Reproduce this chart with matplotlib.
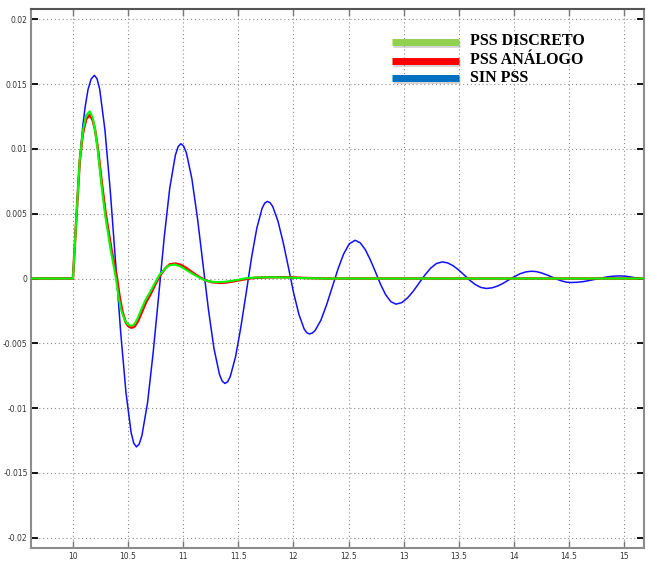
import matplotlib
matplotlib.use("Agg")
import matplotlib.pyplot as plt
from matplotlib.lines import Line2D
import matplotlib.patheffects as pe

# ---- data ----
t_sin = [9.6, 10.0, 10.03, 10.061, 10.09, 10.11, 10.137, 10.165, 10.195, 10.219,
         10.243, 10.29, 10.338, 10.386, 10.433, 10.481, 10.528, 10.552, 10.576, 10.601,
         10.626, 10.677, 10.727, 10.778, 10.828, 10.878, 10.929, 10.954, 10.979, 11.004,
         11.029, 11.079, 11.129, 11.179, 11.229, 11.279, 11.329, 11.354, 11.379, 11.403,
         11.427, 11.475, 11.523, 11.572, 11.62, 11.668, 11.716, 11.740, 11.764, 11.788,
         11.812, 11.859, 11.907, 11.955, 12.002, 12.05, 12.097, 12.121, 12.145, 12.171,
         12.197, 12.249, 12.3, 12.352, 12.404, 12.455, 12.507, 12.559,
         12.605, 12.652, 12.698, 12.745, 12.791, 12.837, 12.884, 12.93,
         12.983, 13.035, 13.088, 13.14, 13.193, 13.245, 13.298, 13.35,
         13.4, 13.45, 13.5, 13.55, 13.6, 13.65, 13.7, 13.75,
         13.801, 13.853, 13.904, 13.955, 14.006, 14.057, 14.109, 14.16,
         14.205, 14.25, 14.295, 14.34, 14.385, 14.43, 14.475, 14.52,
         14.575, 14.63, 14.685, 14.74, 14.795, 14.85, 14.905, 14.96,
         15.01, 15.06, 15.11, 15.16, 15.22]
v_sin = [0.0, 0.0, 0.0045, 0.0091, 0.0118, 0.0132, 0.0146, 0.0154, 0.01568, 0.01541,
         0.01459, 0.01148, 0.00683, 0.00134, -0.00415, -0.0088, -0.01191, -0.01272, -0.0130, -0.01278,
         -0.01211, -0.00957, -0.00578, -0.0013, 0.00318, 0.00697, 0.00951, 0.01018, 0.0104, 0.01022,
         0.0097, 0.00769, 0.00469, 0.00115, -0.00239, -0.00539, -0.0074, -0.00792, -0.0081, -0.00797,
         -0.00757, -0.00604, -0.00376, -0.00108, 0.00161, 0.00389, 0.00542, 0.00582, 0.00595, 0.00585,
         0.00556, 0.00445, 0.00279, 0.00084, -0.00112, -0.00278, -0.00389, -0.00418, -0.00428, -0.00421,
         -0.00401, -0.00322, -0.00205, -0.00067, 0.00072, 0.00189, 0.00268, 0.00295,
         0.00276, 0.00223, 0.00143, 0.00049, -0.00046, -0.00126, -0.00179, -0.00198,
         -0.00186, -0.0015, -0.00097, -0.00035, 0.00027, 0.0008, 0.00116, 0.00128,
         0.0012, 0.00098, 0.00065, 0.00026, -0.00014, -0.00047, -0.00069, -0.00077,
         -0.00072, -0.00058, -0.00036, -0.0001, 0.00015, 0.00037, 0.00051, 0.00056,
         0.00053, 0.00043, 0.00029, 0.00013, -0.00004, -0.00018, -0.00028, -0.00031,
         -0.00029, -0.00024, -0.00015, -0.00006, 0.00004, 0.00013, 0.00018, 0.0002,
         0.00018, 0.00012, 0.00004, -0.00003, -0.0001]

t_analogo = [9.6, 10.0, 10.03, 10.061, 10.09, 10.12, 10.152, 10.18, 10.2, 10.227,
             10.26, 10.297, 10.35, 10.40, 10.425, 10.45, 10.48, 10.505, 10.53,
             10.56, 10.59, 10.63, 10.665, 10.705, 10.75, 10.795, 10.84, 10.88,
             10.93, 10.98, 11.03, 11.095, 11.15, 11.205, 11.26, 11.33, 11.39,
             11.46, 11.53, 11.59, 11.67, 11.77, 11.87, 11.98, 12.1, 12.3, 15.2]
v_analogo = [0.0, 0.0, 0.0045, 0.0090, 0.0112, 0.0123, 0.01262, 0.0122, 0.0115, 0.0100,
             0.0075, 0.0050, 0.0022, 0.0, -0.0015, -0.0026, -0.0034, -0.0037, -0.0038,
             -0.0037, -0.0033, -0.0025, -0.0018, -0.0012, -0.0004, 0.0003, 0.0008, 0.0011,
             0.00115, 0.00105, 0.0008, 0.0004, 0.0001, -0.00015, -0.00028, -0.00034, -0.00031,
             -0.00021, -0.0001, 0.0, 0.00006, 0.00009, 0.0001, 0.00009, 0.00004, 0.0, 0.0]

t_discreto = [9.6, 10.0, 10.03, 10.061, 10.09, 10.12, 10.152, 10.18, 10.2, 10.224,
              10.255, 10.29, 10.34, 10.39, 10.415, 10.44, 10.47, 10.495, 10.52,
              10.55, 10.58, 10.62, 10.655, 10.696, 10.74, 10.786, 10.83, 10.87,
              10.922, 10.97, 11.02, 11.087, 11.14, 11.196, 11.25, 11.31, 11.37,
              11.44, 11.51, 11.57, 11.65, 11.75, 11.85, 11.96, 12.1, 12.3, 15.2]
v_discreto = [0.0, 0.0, 0.0045, 0.0091, 0.0114, 0.0126, 0.0129, 0.0124, 0.0115, 0.0100,
              0.0075, 0.0050, 0.0023, 0.0, -0.0015, -0.0025, -0.0032, -0.0035, -0.00365,
              -0.0036, -0.0032, -0.0024, -0.0017, -0.0011, -0.0004, 0.0003, 0.0007, 0.0010,
              0.00108, 0.00095, 0.0007, 0.00035, 0.0001, -0.00013, -0.00024, -0.00028, -0.00026,
              -0.00018, -0.00008, 0.00003, 0.00007, 0.00009, 0.00009, 0.00007, 0.00003, 0.0, 0.0]

x_ticks = [10, 10.5, 11, 11.5, 12, 12.5, 13, 13.5, 14, 14.5, 15]
x_tick_labels = ["10", "10.5", "11", "11.5", "12", "12.5", "13", "13.5", "14", "14.5", "15"]
y_ticks = [0.02, 0.015, 0.01, 0.005, 0, -0.005, -0.01, -0.015, -0.02]
y_tick_labels = ["0.02", "0.015", "0.01", "0.005", "0", "-0.005", "-0.01", "-0.015", "-0.02"]

legend_labels = ["PSS DISCRETO", "PSS ANÁLOGO", "SIN PSS"]
legend_colors = ["#92d050", "#ff0000", "#0070c0"]

# ---- figure ----
W, H = 654, 561
fig = plt.figure(figsize=(W / 100, H / 100), dpi=100)
ax = fig.add_axes([30.5 / W, 1 - 548 / H, (644 - 30.5) / W, (548 - 9) / H])

ax.plot(t_sin, v_sin, color="#1010ff", lw=1.1, zorder=3, solid_joinstyle="round")
ax.plot(t_analogo, v_analogo, color="#ff0000", lw=1.8, zorder=4, solid_joinstyle="round")
ax.plot(t_discreto, v_discreto, color="#00ff00", lw=1.5, zorder=5, solid_joinstyle="round")

ax.set_xlim(9.615, 15.18)
ax.set_ylim(-0.0208, 0.0208)
ax.set_xticks(x_ticks)
ax.set_xticklabels(x_tick_labels)
ax.set_yticks(y_ticks)
ax.set_yticklabels(y_tick_labels)

ax.grid(True, linestyle=(0, (1, 2.5)), color="#8a8a8a", lw=0.8)
ax.set_axisbelow(True)

for lab in ax.get_xticklabels() + ax.get_yticklabels():
    lab.set_fontfamily(["Liberation Sans Narrow", "DejaVu Sans"])
    lab.set_fontsize(5.5)
    lab.set_color("#333333")

ax.tick_params(axis="y", direction="in", length=5, width=1.3, color="black",
               left=True, right=True, pad=2)
ax.tick_params(axis="x", direction="in", length=5, width=1.0, color="#777777",
               top=True, bottom=True, pad=3)

for side in ["left", "bottom", "right"]:
    ax.spines[side].set_color("#8c8c8c")
    ax.spines[side].set_linewidth(1.5)
ax.spines["top"].set_color("#555555")
ax.spines["top"].set_linewidth(1.5)

# ---- legend (custom, as in the reference) ----
bar_y = [42, 61, 78]
text_y = [41, 59.5, 77.5]
for lab, col, by, ty in zip(legend_labels, legend_colors, bar_y, text_y):
    ln = Line2D([392 / W, 459 / W], [1 - by / H, 1 - by / H], transform=fig.transFigure,
                color=col, lw=5, solid_capstyle="butt", zorder=10,
                path_effects=[pe.SimpleLineShadow(offset=(1.0, -1.5), shadow_color="#777777",
                                                  alpha=0.3), pe.Normal()])
    fig.add_artist(ln)
    fig.text(470 / W, 1 - ty / H, lab, fontsize=11.5, fontweight="bold",
             family=["Liberation Serif", "DejaVu Serif"], color="black",
             va="center", ha="left", zorder=11)

fig.savefig("out.png", dpi=100)
